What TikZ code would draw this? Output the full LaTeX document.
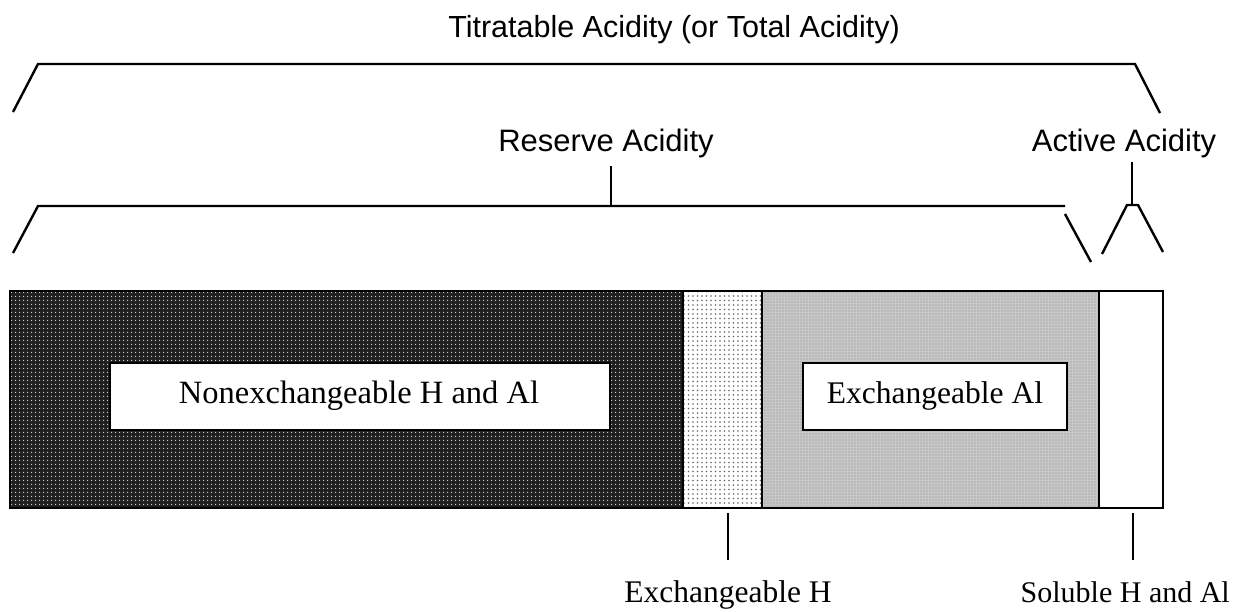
\documentclass[tikz,border=0pt]{standalone}
\usepackage{fontspec}
\setmainfont{Liberation Serif}
\newfontfamily\arialf{Liberation Sans}
\usetikzlibrary{patterns.meta}
\begin{document}
\begin{tikzpicture}[x=1pt,y=-1pt,
  brk/.style={line width=2.4pt},
  tick/.style={line width=2pt},
  seg/.style={line width=2pt},
  lblbox/.style={draw,line width=2pt,fill=white},
  sanslbl/.style={font=\arialf\fontsize{31}{36}\selectfont,inner sep=0pt,anchor=base},
  seriflbl/.style={font=\fontsize{31.5}{36}\selectfont,inner sep=0pt,anchor=base}]
\useasboundingbox (0,0) rectangle (1237,611);
% titles
\node[sanslbl,font=\arialf\fontsize{30.5}{35}\selectfont] (ttl) at (674,37) {Titratable Acidity (or Total Acidity)};
\node[sanslbl] (res) at (606,151) {Reserve Acidity};
\node[sanslbl] (act) at (1124,151) {Active Acidity};
% top bracket
\coordinate (t1) at (13,112); \coordinate (t2) at (38,64);
\coordinate (t3) at (1135,64); \coordinate (t4) at (1160,113);
\draw[brk] (t1) -- (t2) -- (t3) -- (t4);
% reserve bracket
\coordinate (r1) at (13,253); \coordinate (r2) at (38,206);
\coordinate (r3) at (1065,206); \coordinate (r4) at (1065,214); \coordinate (r5) at (1091,262);
\coordinate (rt) at (611,166); \coordinate (rb) at (611,206);
\draw[brk] (r1) -- (r2) -- (r3);
\draw[brk] (r4) -- (r5);
\draw[brk] (rt) -- (rb);
% active bracket
\coordinate (a0) at (1132,162); \coordinate (a1) at (1132,205);
\coordinate (al) at (1127,205); \coordinate (ar) at (1138,205);
\coordinate (al2) at (1102,254); \coordinate (ar2) at (1163,252);
\draw[brk] (a0) -- (a1);
\draw[brk] (al2) -- (al) -- (ar) -- (ar2);
% bar segments
\fill[black!88] (10,291) rectangle (683,508);
\fill[pattern={Dots[distance=4pt,radius=0.9pt]},pattern color=white!80!black] (10,291) rectangle (683,508);
\fill[white] (683,291) rectangle (762,508);
\fill[pattern={Dots[distance=4.5pt,radius=0.8pt]},pattern color=black!60] (683,291) rectangle (762,508);
\fill[black!22] (762,291) rectangle (1099,508);
\fill[pattern={Dots[distance=3pt,radius=0.7pt]},pattern color=black!45] (762,291) rectangle (1099,508);
\draw[seg] (10,291) rectangle (1163,508);
\draw[seg] (683,291) -- (683,508);
\draw[seg] (762,291) -- (762,508);
\draw[line width=2.6pt] (1099,291) -- (1099,508);
% inner label boxes
\node[lblbox,minimum width=500pt,minimum height=67pt,inner sep=0pt] (nx) at (360,396.5) {};
\node[seriflbl,font=\fontsize{32.5}{37}\selectfont] (nxt) at (359,403) {Nonexchangeable H and Al};
\node[lblbox,minimum width=264pt,minimum height=67pt,inner sep=0pt] (ex) at (935,396.5) {};
\node[seriflbl] (ext) at (935,403) {Exchangeable Al};
% bottom ticks and labels
\coordinate (b1t) at (728,513); \coordinate (b1b) at (728,560);
\coordinate (b2t) at (1133,513); \coordinate (b2b) at (1133,560);
\draw[tick] (b1t) -- (b1b);
\draw[tick] (b2t) -- (b2b);
\node[seriflbl] (exh) at (728,602) {Exchangeable H};
\node[seriflbl,font=\fontsize{30}{35}\selectfont,anchor=base east] (sol) at (1230,602) {Soluble H and Al};
\end{tikzpicture}
\end{document}
